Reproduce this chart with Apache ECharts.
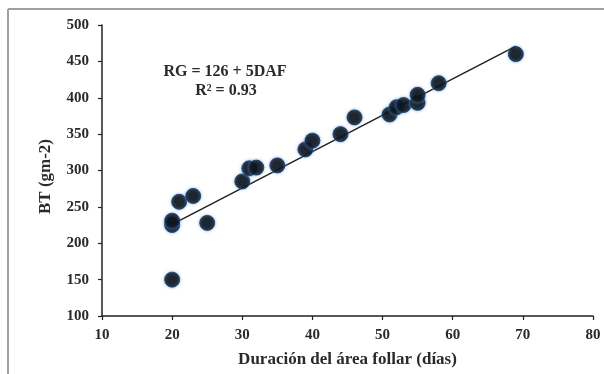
<!DOCTYPE html>
<html>
<head>
<meta charset="utf-8">
<script src="https://cdn.jsdelivr.net/npm/echarts@6/dist/echarts.min.js"></script>
<style>
  html, body { margin: 0; padding: 0; background: #fff; }
  #chart { width: 604px; height: 374px; }
</style>
</head>
<body>
<div id="chart"></div>
<script>
// Leaf-area duration (days) vs. total biomass (g m-2)
const dafDays = [20, 20, 20, 21, 23, 25, 30, 31, 32, 35, 39, 40, 44, 46, 51, 52, 53, 55, 55, 58, 69];
const btValues = [150, 225, 231, 257, 265, 228, 285, 303, 304, 307, 329, 341, 350, 373, 377, 387, 390, 393, 404, 420, 460];

// Regression reported in the annotation: RG = 126 + 5DAF
const fitIntercept = 126;
const fitSlope = 5;
const fitRange = [20, 69];

const xTicks = [10, 20, 30, 40, 50, 60, 70, 80];
const yTicks = [100, 150, 200, 250, 300, 350, 400, 450, 500];

const fitLine = fitRange.map(x => [x, fitIntercept + fitSlope * x]);
const points = dafDays.map((x, i) => [x, btValues[i]]);

const serif = '"Liberation Serif", "DejaVu Serif", serif';
const labelStyle = { fontFamily: serif, fontWeight: 'bold', fontSize: 15, color: '#2a2a2a' };
const nameStyle = { fontFamily: serif, fontWeight: 'bold', fontSize: 17, color: '#2a2a2a' };

const chart = echarts.init(document.getElementById('chart'), null, { renderer: 'canvas' });
chart.setOption({
  backgroundColor: '#fff',
  animation: false,
  grid: { left: 102, right: 11, top: 25, bottom: 58 },
  xAxis: {
    type: 'value',
    min: xTicks[0], max: xTicks[xTicks.length - 1], interval: 10,
    name: 'Duración del área follar (días)',
    nameLocation: 'middle', nameGap: 35,
    nameTextStyle: nameStyle,
    axisLine: { lineStyle: { color: '#222', width: 1.5 } },
    axisTick: { length: 4, lineStyle: { color: '#222', width: 1.2 } },
    axisLabel: Object.assign({ margin: 12 }, labelStyle),
    splitLine: { show: false }
  },
  yAxis: {
    type: 'value',
    min: yTicks[0], max: yTicks[yTicks.length - 1], interval: 50,
    name: 'BT (gm-2)',
    nameLocation: 'middle', nameGap: 48,
    nameTextStyle: Object.assign({ padding: [0, 12, 0, 0] }, nameStyle),
    axisLine: { show: true, lineStyle: { color: '#222', width: 1.5 } },
    axisTick: { show: true, length: 4, lineStyle: { color: '#222', width: 1.2 } },
    axisLabel: Object.assign({ margin: 13 }, labelStyle),
    splitLine: { show: false }
  },
  series: [
    {
      type: 'line',
      data: fitLine,
      symbol: 'none',
      lineStyle: { color: '#222', width: 1.5 },
      z: 2
    },
    {
      type: 'scatter',
      data: points,
      symbol: 'circle',
      symbolSize: 15,
      itemStyle: {
        color: '#000',
        borderColor: '#143a66',
        borderWidth: 1,
        shadowBlur: 3,
        shadowColor: 'rgba(90,150,220,0.8)'
      },
      z: 3
    }
  ],
  graphic: [
    {
      type: 'text', x: 225, y: 72,
      style: { text: 'RG = 126 + 5DAF', font: 'bold 16px ' + serif, fill: '#2a2a2a', textAlign: 'center', textVerticalAlign: 'middle' }
    },
    {
      type: 'text', x: 226, y: 91,
      style: { text: 'R² = 0.93', font: 'bold 16px ' + serif, fill: '#2a2a2a', textAlign: 'center', textVerticalAlign: 'middle' }
    },
    {
      type: 'line', shape: { x1: 8, y1: 9, x2: 604, y2: 9 },
      style: { stroke: '#a0a0a0', lineWidth: 2 }
    },
    {
      type: 'line', shape: { x1: 8, y1: 9, x2: 8, y2: 374 },
      style: { stroke: '#a0a0a0', lineWidth: 2 }
    }
  ]
});
</script>
</body>
</html>
